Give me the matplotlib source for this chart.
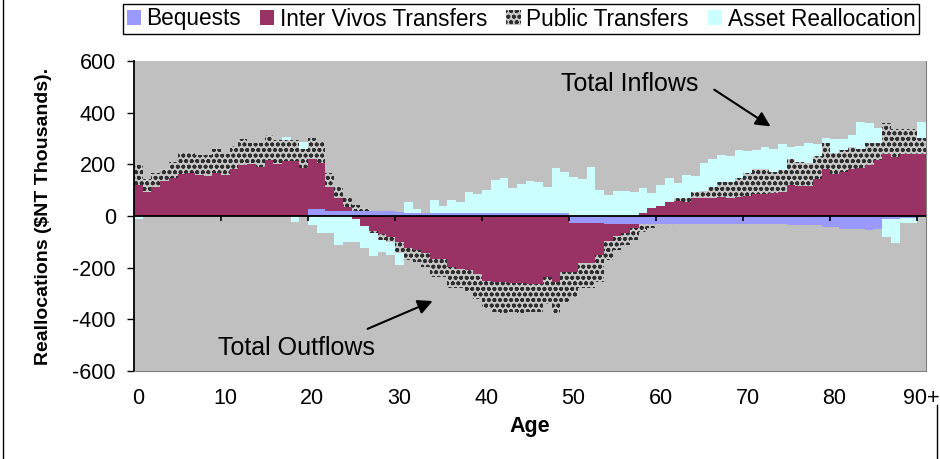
import numpy as np
import matplotlib
matplotlib.use("Agg")
import matplotlib.pyplot as plt
from matplotlib.lines import Line2D

# ---- data ($NT thousands, age 0..90+) ----
ages = list(range(91))
tick_ages = [0, 10, 20, 30, 40, 50, 60, 70, 80, 90]
tick_labels = ["0", "10", "20", "30", "40", "50", "60", "70", "80", "90+"]

bequests = [0, 0, 0, 0, 0, 0, 0, 0, 0, 0,
            0, 0, 0, 0, 0, 0, 0, 0, 0, 0,
            27, 27, 19, 19, 19, 20, 20, 20, 20, 18,
            16, 13, 13, 13, 13, 13, 13, 13, 13, 13,
            10, 10, 10, 10, 10, 10, 10, 10, 10, 10,
            -26, -26, -28, -28, -32, -32, -32, -32, -31, -31,
            -31, -31, -30, -30, -30, -30, -30, -30, -30, -30,
            -30, -32, -32, -32, -32, -35, -35, -35, -35, -44,
            -44, -50, -50, -50, -54, -50, -12, -10, -8, -8,
            -3]

inter_vivos = [120, 91, 111, 135, 147, 164, 168, 157, 154, 168,
               160, 182, 199, 203, 191, 215, 202, 213, 213, 186,
               194, 177, 93, 51, 16, -12, -37, -58, -70, -80,
               -99, -125, -132, -142, -168, -168, -196, -206, -209, -226,
               -250, -254, -254, -258, -261, -265, -263, -237, -254, -216,
               -190, -157, -155, -123, -64, -46, -35, -14, 13, 32,
               40, 53, 58, 53, 71, 68, 68, 75, 71, 75,
               77, 84, 84, 88, 92, 120, 116, 116, 143, 181,
               161, 172, 181, 186, 197, 217, 240, 230, 240, 240,
               240]

public_transfers = [77, 51, 54, 46, 63, 79, 79, 79, 82, 93,
                    81, 88, 98, 78, 93, 98, 92, 81, 81, 73,
                    80, 81, 53, 46, 33, 22, 10, -8, -22, -22,
                    -45, -45, -45, -54, -69, -69, -84, -74, -84, -97,
                    -107, -116, -123, -112, -113, -105, -107, -103, -123, -122,
                    -96, -97, -97, -103, -74, -54, -45, -47, -30, -17,
                    -7, -3, 13, 18, 23, 29, 46, 58, 62, 73,
                    88, 98, 98, 84, 86, 100, 94, 90, 89, 103,
                    82, 83, 87, 72, 84, 64, 119, 105, 95, 95,
                    61]

asset_realloc = [-13, 0, 0, 0, 0, 0, 0, 0, 0, 0,
                 0, 0, 0, 0, 0, 0, 0, 12, -25, 27,
                 -35, -67, -64, -111, -99, -87, -86, -90, -46, -48,
                 -45, 42, 14, 0, 50, 27, 50, 40, 78, 72,
                 91, 129, 136, 98, 114, 126, 123, 102, 176, 160,
                 152, 144, 191, 101, 82, 97, 97, 93, 94, 57,
                 80, 95, 57, 88, 61, 108, 108, 103, 99, 109,
                 88, 75, 84, 89, 101, 48, 61, 75, 45, 17,
                 54, 42, 46, 105, 78, 58, -68, -93, -18, -18,
                 62]

series_names = ["Bequests", "Inter Vivos Transfers", "Public Transfers", "Asset Reallocation"]

W, H, DPI = 940, 459, 100
plt.rcParams['font.family'] = ['Liberation Sans', 'DejaVu Sans']
plt.rcParams['axes.unicode_minus'] = False
plt.rcParams['hatch.linewidth'] = 1.2

fig = plt.figure(figsize=(W / DPI, H / DPI), dpi=DPI)
fig.patch.set_facecolor("white")
ax = fig.add_axes([134 / W, (H - 371) / H, 792 / W, 310 / H])
ax.set_facecolor("#c0c0c0")

styles = [
    dict(color="#9999ff"),
    dict(color="#993366"),
    dict(facecolor="#c8c8c8", edgecolor="#2e2e2e", hatch="ooo", linewidth=0),
    dict(color="#ccffff"),
]

# stacked bars, positives and negatives piled separately (like Excel)
pos = np.zeros(len(ages))
neg = np.zeros(len(ages))
handles = []
for vals, st in zip([bequests, inter_vivos, public_transfers, asset_realloc], styles):
    v = np.array(vals, dtype=float)
    bottom = np.where(v >= 0, pos, neg)
    bars = ax.bar(ages, v, width=1.0, bottom=bottom, antialiased=False, **st)
    handles.append(bars)
    pos += np.where(v > 0, v, 0)
    neg += np.where(v < 0, v, 0)

ax.set_xlim(-0.5, 90.5)
ax.set_ylim(-600, 600)

# zero line with the category tick marks on it
ax.axhline(0, color="black", lw=1.3, zorder=3)
ax.vlines(np.arange(9.5, 90, 10), -19, 0, color="black", lw=1.2, zorder=3)

ax.set_xticks(tick_ages)
ax.set_xticklabels(tick_labels)
ax.tick_params(axis="x", length=0, pad=12, labelsize=15.5)
ax.set_yticks(range(-600, 601, 200))
ax.tick_params(axis="y", length=5, width=1, pad=8, labelsize=15.5, direction="out")

for s in ["top", "right", "bottom"]:
    ax.spines[s].set_color("#808080")
ax.spines["top"].set_visible(False)
ax.spines["left"].set_color("black")
ax.spines["left"].set_linewidth(1.3)

ax.set_xlabel("Age", fontsize=15.5, fontweight="bold")
ax.xaxis.set_label_coords(0.5, -0.18)
ax.xaxis.label.set_va("center")
ax.set_ylabel("Reallocations ($NT Thousands).", fontsize=14, fontweight="bold",
              family=['Liberation Sans Narrow', 'Liberation Sans'])
ax.yaxis.set_label_coords(-0.114, 0.5)
ax.yaxis.label.set_va("center")

# annotations
ax.text(56.5, 511, "Total Inflows", fontsize=18, ha="center", va="center")
ax.annotate("", xy=(72.9, 341), xytext=(65.9, 495),
            arrowprops=dict(arrowstyle="-|>", color="black", lw=1.5, mutation_scale=22))
ax.text(18.2, -511, "Total Outflows", fontsize=18, ha="center", va="center")
ax.annotate("", xy=(34.1, -325), xytext=(26.05, -441),
            arrowprops=dict(arrowstyle="-|>", color="black", lw=1.5, mutation_scale=22))

leg = fig.legend(handles, series_names, loc="center", bbox_to_anchor=(521 / W, 1 - 19 / H),
                 ncol=4, fontsize=16.3, frameon=True, fancybox=False, framealpha=1,
                 edgecolor="black", handlelength=0.62, handleheight=0.62,
                 handletextpad=0.25, columnspacing=0.85, borderpad=0.15)
leg.get_frame().set_linewidth(1.0)

# outer chart frame pieces
fig.add_artist(Line2D([3 / W, 3 / W], [0, 1], transform=fig.transFigure, color="black", lw=1))
fig.add_artist(Line2D([937 / W, 937 / W], [0, 1 - 405 / H], transform=fig.transFigure, color="black", lw=1))

fig.savefig("out.png", dpi=DPI)
